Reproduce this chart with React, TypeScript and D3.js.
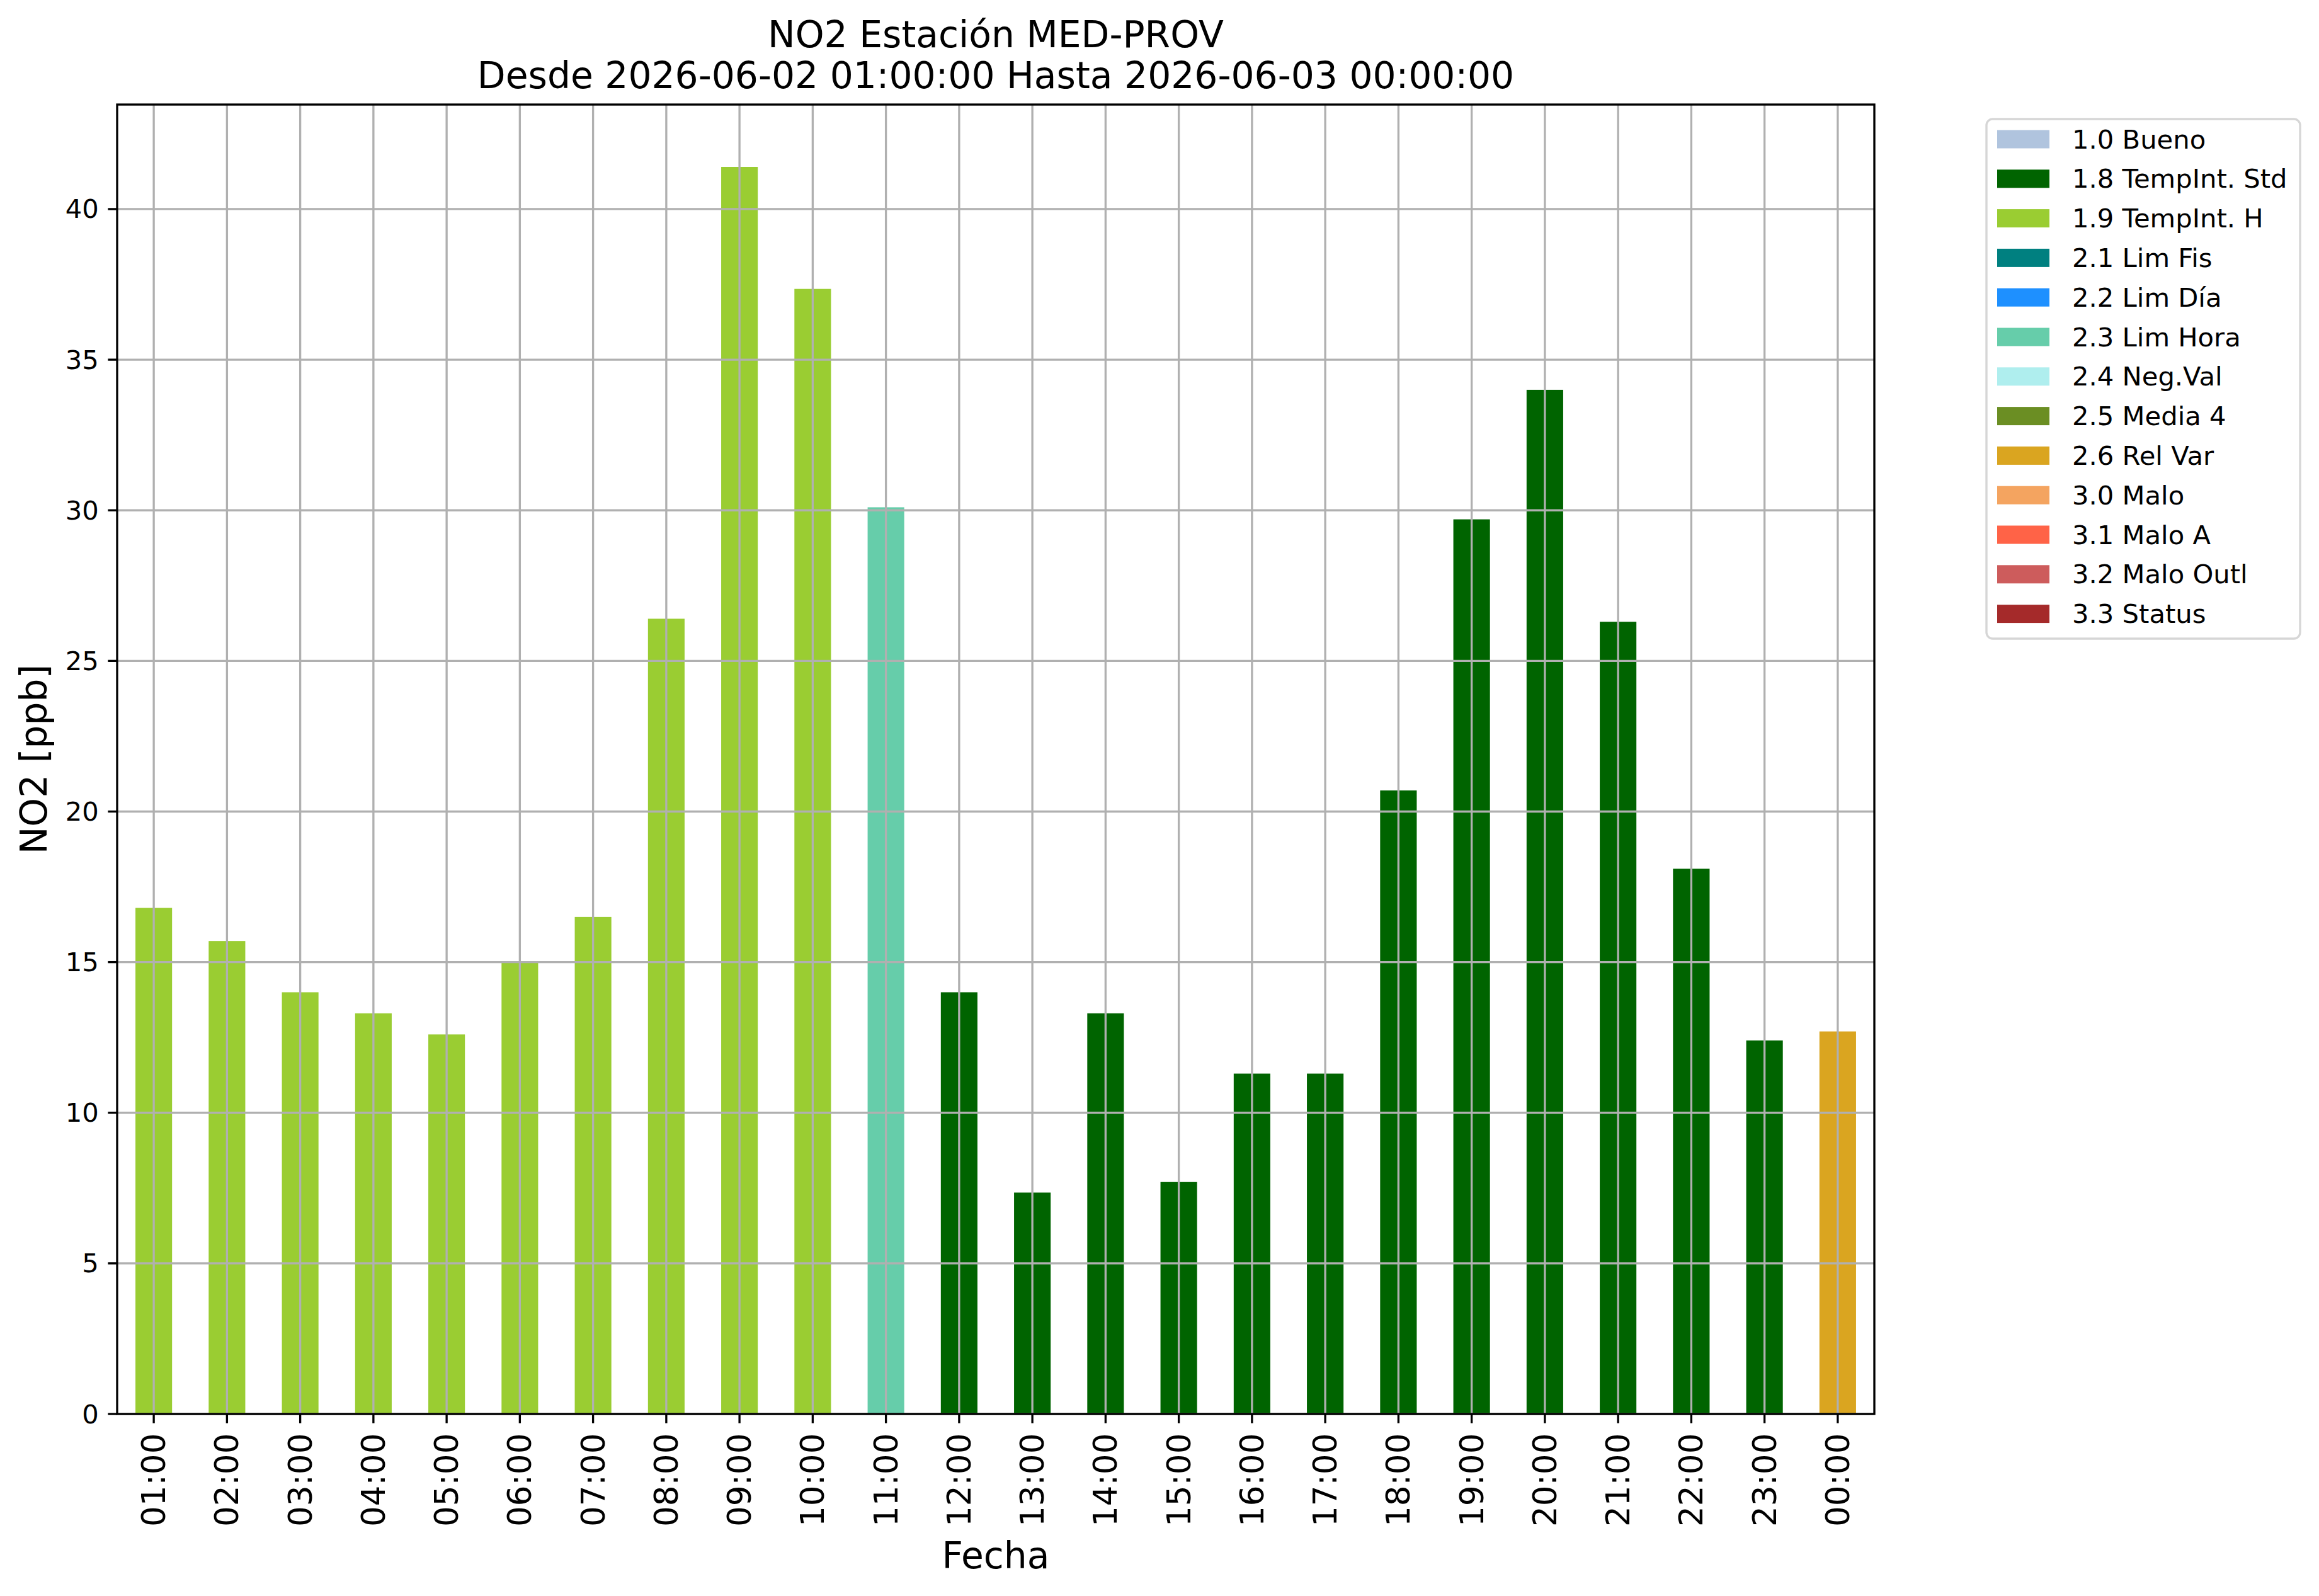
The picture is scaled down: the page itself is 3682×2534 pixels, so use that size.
import React from 'react';
import * as d3 from 'd3';

const hours = [
  '01:00', '02:00', '03:00', '04:00', '05:00', '06:00', '07:00', '08:00',
  '09:00', '10:00', '11:00', '12:00', '13:00', '14:00', '15:00', '16:00',
  '17:00', '18:00', '19:00', '20:00', '21:00', '22:00', '23:00', '00:00'
];

const no2 = [
  16.8, 15.7, 14.0, 13.3, 12.6, 15.0, 16.5, 26.4,
  41.4, 37.35, 30.1, 14.0, 7.35, 13.3, 7.7, 11.3,
  11.3, 20.7, 29.7, 34.0, 26.3, 18.1, 12.4, 12.7
];

// validation flag of each hour
const hourFlags = [
  '1.9', '1.9', '1.9', '1.9', '1.9', '1.9', '1.9', '1.9',
  '1.9', '1.9', '2.3', '1.8', '1.8', '1.8', '1.8', '1.8',
  '1.8', '1.8', '1.8', '1.8', '1.8', '1.8', '1.8', '2.6'
];

const flagCodes = ['1.0', '1.8', '1.9', '2.1', '2.2', '2.3', '2.4', '2.5', '2.6', '3.0', '3.1', '3.2', '3.3'];
const flagNames = [
  'Bueno', 'TempInt. Std', 'TempInt. H', 'Lim Fis', 'Lim Día', 'Lim Hora',
  'Neg.Val', 'Media 4', 'Rel Var', 'Malo', 'Malo A', 'Malo Outl', 'Status'
];
const flagColors = [
  '#b0c4de', '#006400', '#9acd32', '#008080', '#1e90ff', '#66cdaa',
  '#afeeee', '#6b8e23', '#daa520', '#f4a460', '#ff6347', '#cd5c5c', '#a52a2a'
];

const W = 3682;
const H = 2534;
const m = {left: 186, right: 2976, top: 166, bottom: 2245};
const font = '"DejaVu Sans", sans-serif';
const lw = 3.33;
const tickLen = 14.6;
const gridColor = '#b0b0b0';

function App() {
  const x = d3.scaleBand<string>()
    .domain(hours)
    .range([m.left, m.right])
    .paddingInner(0.5)
    .paddingOuter(0.25);

  const yMax = (d3.max(no2) as number) * 1.05;
  const y = d3.scaleLinear()
    .domain([0, yMax])
    .range([m.bottom, m.top]);

  const yTicks = y.ticks(10);
  const colorOf = d3.scaleOrdinal<string, string>().domain(flagCodes).range(flagColors);
  const xc = (h: string) => (x(h) as number) + x.bandwidth() / 2;

  const legend = {left: 3154, top: 189, right: 3652, bottom: 1014, row0: 221, rowStep: 62.8};

  return (
    <svg width={W} height={H} style={{position: 'absolute', left: 0, top: 0, background: '#fff'}}
      fontFamily={font}>
      <rect x={0} y={0} width={W} height={H} fill="#fff"/>

      {/* title */}
      <text x={(m.left + m.right) / 2} y={75} textAnchor="middle" fontSize={58.3}>NO2 Estación MED-PROV</text>
      <text x={(m.left + m.right) / 2} y={140} textAnchor="middle" fontSize={58.3}>
        Desde 2026-06-02 01:00:00 Hasta 2026-06-03 00:00:00
      </text>

      {/* bars */}
      {hours.map((h, i) => (
        <rect key={h} x={x(h)} width={x.bandwidth()} y={y(no2[i])} height={y(0) - y(no2[i])}
          fill={colorOf(hourFlags[i])}/>
      ))}

      {/* grid on top of bars */}
      {hours.map(h => (
        <line key={'gx' + h} x1={xc(h)} x2={xc(h)} y1={m.top} y2={m.bottom} stroke={gridColor} strokeWidth={lw}/>
      ))}
      {yTicks.map(t => (
        <line key={'gy' + t} x1={m.left} x2={m.right} y1={y(t)} y2={y(t)} stroke={gridColor} strokeWidth={lw}/>
      ))}

      {/* spines */}
      <rect x={m.left} y={m.top} width={m.right - m.left} height={m.bottom - m.top}
        fill="none" stroke="#000" strokeWidth={lw}/>

      {/* y axis */}
      {yTicks.map(t => (
        <g key={'ty' + t}>
          <line x1={m.left - tickLen} x2={m.left} y1={y(t)} y2={y(t)} stroke="#000" strokeWidth={lw}/>
          <text x={m.left - tickLen - 14.6} y={y(t)} textAnchor="end" dominantBaseline="central"
            fontSize={41.7}>{t}</text>
        </g>
      ))}
      <text transform={`translate(74,${(m.top + m.bottom) / 2}) rotate(-90)`} textAnchor="middle"
        fontSize={58.3}>NO2 [ppb]</text>

      {/* x axis */}
      {hours.map(h => (
        <g key={'tx' + h}>
          <line x1={xc(h)} x2={xc(h)} y1={m.bottom} y2={m.bottom + tickLen} stroke="#000" strokeWidth={lw}/>
          <text transform={`translate(${xc(h)},${m.bottom + tickLen + 16}) rotate(-90)`}
            textAnchor="end" dominantBaseline="central" fontSize={51.5}>{h}</text>
        </g>
      ))}
      <text x={(m.left + m.right) / 2} y={2490} textAnchor="middle" fontSize={58.3}>Fecha</text>

      {/* legend */}
      <rect x={legend.left} y={legend.top} width={legend.right - legend.left} height={legend.bottom - legend.top}
        rx={10} fill="#fff" fillOpacity={0.8} stroke="#d6d6d6" strokeWidth={lw}/>
      {flagCodes.map((c, i) => {
        const cy = legend.row0 + i * legend.rowStep;
        return (
          <g key={'lg' + c}>
            <rect x={3171} y={cy - 14.5} width={83} height={29} fill={flagColors[i]}/>
            <text x={3290} y={cy} dominantBaseline="central" fontSize={41.7}>{c} {flagNames[i]}</text>
          </g>
        );
      })}
    </svg>
  );
}

export default App;
